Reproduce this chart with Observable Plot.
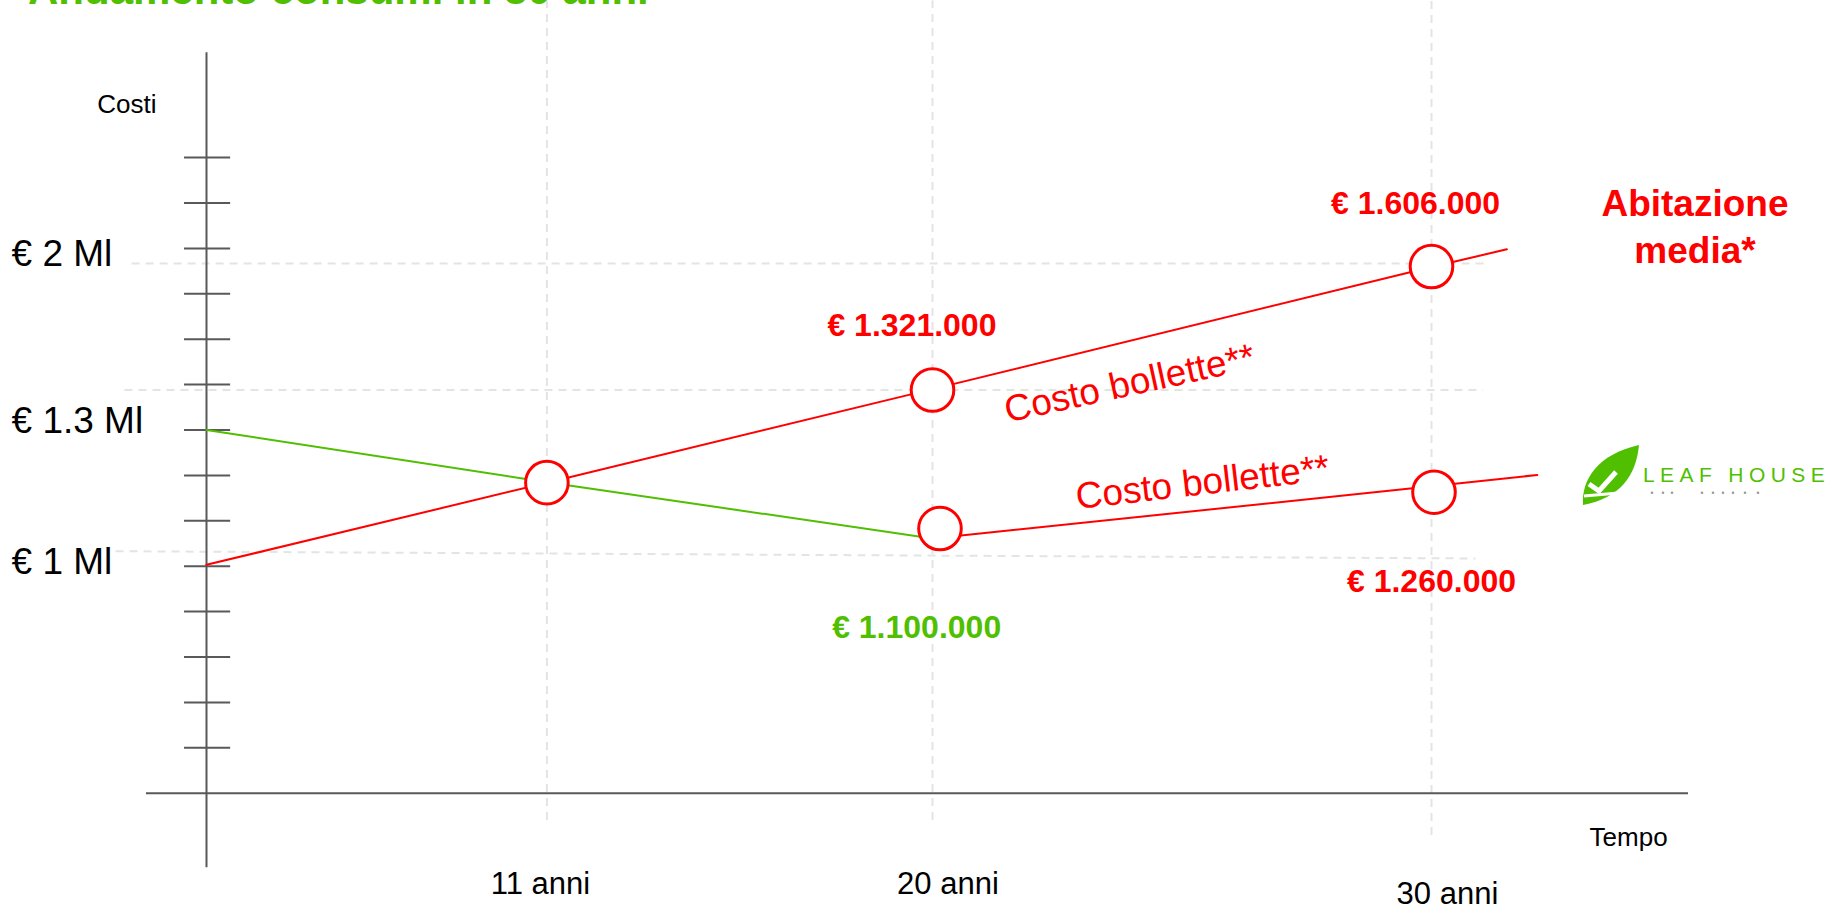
<!DOCTYPE html>
<html><head><meta charset="utf-8">
<script src="https://cdn.jsdelivr.net/npm/d3@7"></script>
<script src="https://cdn.jsdelivr.net/npm/@observablehq/plot@0.6"></script>
<style>
html,body{margin:0;padding:0;background:#fff;overflow:hidden;}
#wrap{position:relative;width:1837px;height:908px;overflow:hidden;}
#title{position:absolute;left:28px;top:-31px;font:bold 42px "Liberation Sans",Arial,sans-serif;line-height:42px;color:#4fbf00;white-space:nowrap;}
#logo{position:absolute;left:1580px;top:440px;}
</style></head><body>
<div id="wrap">
<div id="chart"></div>
<div id="title">Andamento consumi in 30 anni</div>
<svg id="logo" width="257" height="70" viewBox="0 0 257 70">
  <path d="M3,65 C1,40 18,14 59,5 C56,36 40,58 3,65 Z" fill="#4fbf00"/>
  <path d="M9,44 L19,51 L36,32" fill="none" stroke="#fff" stroke-width="5"/>
  <path d="M4,56 L50,52" fill="none" stroke="#fff" stroke-width="3"/>
  <text x="63" y="42" font-family="Liberation Sans, Arial, sans-serif" font-size="21" fill="#4fbf00" letter-spacing="5.4">LEAF HOUSE</text>
  <g fill="#9a9a9a">
    <circle cx="72" cy="52.7" r="1.3"/><circle cx="83" cy="52.7" r="1.3"/><circle cx="92" cy="52.7" r="1.3"/>
    <circle cx="122" cy="52.7" r="1.3"/><circle cx="133" cy="52.7" r="1.3"/><circle cx="143" cy="52.7" r="1.3"/>
    <circle cx="153" cy="52.7" r="1.3"/><circle cx="165" cy="52.7" r="1.3"/><circle cx="178" cy="52.7" r="1.3"/>
  </g>
</svg>
</div>
<script>
// ---- Data (x in years, y in schematic levels = axis tick units) ----
const anniGriglia = [11, 20, 30];
const anniGrigliaFine = [-0.6, -0.6, -0.93];
const anniEtichette = ["11 anni", "20 anni", "30 anni"];
const anniEtichetteX = [10.79, 20.31, 30.32];
const anniEtichetteY = [-2.01, -2.01, -2.23];

const livelliTacche = [1, 2, 3, 4, 5, 6, 7, 8, 9, 10, 11, 12, 13, 14];

const costiEtichette = ["€ 2 Ml", "€ 1.3 Ml", "€ 1 Ml"];
const costiEtichetteY = [11.88, 8.20, 5.10];

// dashed horizontal guides: start/end (years, level)
const guideX1 = [-2.42, -2.65, -2.94];
const guideY1 = [11.67, 8.88, 5.33];
const guideX2 = [31.14, 31.03, 30.88];
const guideY2 = [11.67, 8.88, 5.17];

const rossoAltoAnni = [0, 11, 20, 30, 31.51];
const rossoAltoLivello = [5.03, 6.84, 8.90, 11.59, 11.98];
const verdeAnni = [0, 11, 20];
const verdeLivello = [8.0, 6.85, 5.61];
const rossoBassoAnni = [20, 30, 32.12];
const rossoBassoLivello = [5.61, 6.76, 7.01];

const cerchiAnni = [11, 20, 20.15, 30, 30.05];
const cerchiLivello = [6.84, 8.88, 5.83, 11.60, 6.63];

const valori = ["€ 1.606.000", "€ 1.321.000", "€ 1.100.000", "€ 1.260.000"];
const valoriAnni = [29.68, 19.52, 19.63, 30.0];
const valoriLivello = [12.99, 10.30, 3.65, 4.66];
const valoriColore = ["#ff0000", "#ff0000", "#4fbf00", "#ff0000"];

const bolletteTesto = ["Costo bollette**", "Costo bollette**"];
const bolletteAnni = [23.95, 25.41];
const bolletteLivello = [9.02, 6.84];
const bolletteAngolo = [-12.3, -6.6];

const serieTesto = ["Abitazione", "media*"];
const serieAnni = [35.28, 35.28];
const serieLivello = [12.98, 11.95];

const assiTitoli = ["Costi", "Tempo"];
const assiTitoliAnni = [-2.57, 33.95];
const assiTitoliLivello = [15.16, -0.97];

// axis extents
const asseYDa = -1.64, asseYA = 16.31;
const asseXDa = -1.94, asseXA = 35.15;
const taccaDa = -0.71, taccaA = 0.78;
const grigliaTop = 17.45;

// ---- build tables ----
const zip = (a, b) => a.map((v, i) => ({x: v, y: b[i]}));
const font = "Liberation Sans, Arial, sans-serif";
const grey = "#595959";
const gridC = "#e4e4e4";

const chart = Plot.plot({
  width: 1837,
  height: 908,
  margin: 0,
  style: {fontFamily: font, background: "transparent"},
  x: {type: "linear", domain: [0, 11, 20, 30], range: [206, 546.4, 932, 1431], axis: null},
  y: {type: "linear", domain: [0, 14], range: [792.7, 157.1], axis: null},
  marks: [
    Plot.ruleX(anniGriglia.map((a, i) => ({a, y1: anniGrigliaFine[i]})), {x: "a", y1: "y1", y2: grigliaTop, stroke: gridC, strokeWidth: 2, strokeDasharray: "8,6"}),
    Plot.link(guideX1.map((v, i) => ({x1: v, y1: guideY1[i], x2: guideX2[i], y2: guideY2[i]})), {x1: "x1", y1: "y1", x2: "x2", y2: "y2", stroke: gridC, strokeWidth: 2, strokeDasharray: "8,6"}),
    Plot.ruleX([0], {y1: asseYDa, y2: asseYA, stroke: grey, strokeWidth: 2}),
    Plot.ruleY([0], {x1: asseXDa, x2: asseXA, stroke: grey, strokeWidth: 2}),
    Plot.ruleY(livelliTacche, {y: d => d, x1: taccaDa, x2: taccaA, stroke: grey, strokeWidth: 2}),
    Plot.line(zip(verdeAnni, verdeLivello), {x: "x", y: "y", stroke: "#4fbf00", strokeWidth: 2}),
    Plot.line(zip(rossoAltoAnni, rossoAltoLivello), {x: "x", y: "y", stroke: "#ff0000", strokeWidth: 2}),
    Plot.line(zip(rossoBassoAnni, rossoBassoLivello), {x: "x", y: "y", stroke: "#ff0000", strokeWidth: 2}),
    Plot.dot(zip(cerchiAnni, cerchiLivello), {x: "x", y: "y", r: 21.3, fill: "white", stroke: "#ff0000", strokeWidth: 3}),
    Plot.text(costiEtichette.map((t, i) => ({t, y: costiEtichetteY[i]})), {x: -6.30, y: "y", text: "t", textAnchor: "start", fontSize: 37, fill: "black"}),
    Plot.text(assiTitoli.map((t, i) => ({t, x: assiTitoliAnni[i], y: assiTitoliLivello[i]})), {x: "x", y: "y", text: "t", fontSize: 26, fill: "black"}),
    Plot.text(anniEtichette.map((t, i) => ({t, x: anniEtichetteX[i], y: anniEtichetteY[i]})), {x: "x", y: "y", text: "t", fontSize: 31, fill: "black"}),
    Plot.text(valori.map((t, i) => ({t, x: valoriAnni[i], y: valoriLivello[i], c: valoriColore[i]})), {x: "x", y: "y", text: "t", fill: d => d.c, fontSize: 32, fontWeight: "bold"}),
    Plot.text(serieTesto.map((t, i) => ({t, x: serieAnni[i], y: serieLivello[i]})), {x: "x", y: "y", text: "t", fill: "#ff0000", fontSize: 37, fontWeight: "bold"}),
    Plot.text(bolletteTesto.map((t, i) => ({t, x: bolletteAnni[i], y: bolletteLivello[i], r: bolletteAngolo[i]})), {x: "x", y: "y", text: "t", rotate: "r", fill: "#ff0000", fontSize: 37})
  ]
});
document.getElementById("chart").appendChild(chart);
</script>
</body></html>
